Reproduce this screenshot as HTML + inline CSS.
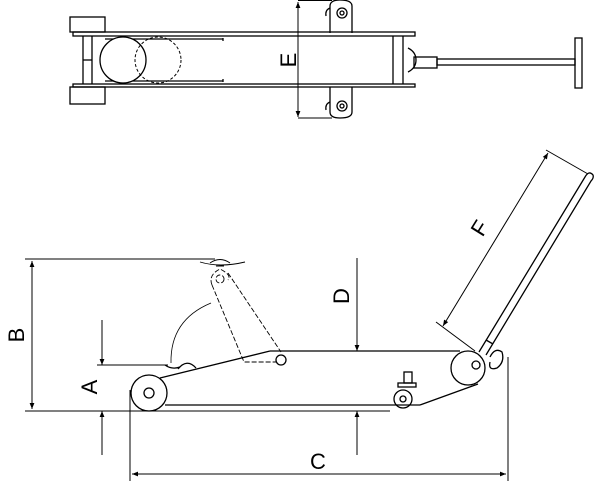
<!DOCTYPE html>
<html><head><style>body{margin:0;background:#fff}svg{display:block}</style></head>
<body>
<svg width="600" height="481" viewBox="0 0 600 481" xmlns="http://www.w3.org/2000/svg" font-family="Liberation Sans, sans-serif">
<defs>
<marker id="ar" viewBox="0 0 10 10" refX="10" refY="5" markerWidth="8" markerHeight="6" orient="auto-start-reverse" markerUnits="userSpaceOnUse"><path d="M0,1 L10,5 L0,9 z" fill="#000"/></marker>
</defs>
<g fill="none" stroke="#000" stroke-width="1.3">
<!-- top view -->
<rect x="70" y="17" width="35" height="15"/>
<rect x="70" y="87" width="35" height="17"/>
<rect x="73" y="32" width="342" height="4"/>
<rect x="73" y="84" width="342" height="3"/>
<line x1="83" y1="36" x2="83" y2="84"/><line x1="92" y1="36" x2="92" y2="84"/>
<line x1="83" y1="60" x2="92" y2="60"/>
<line x1="105" y1="39" x2="223" y2="39"/><line x1="105" y1="81" x2="223" y2="81"/>
<line x1="223" y1="38" x2="223" y2="41"/><line x1="223" y1="79" x2="223" y2="82"/>
<circle cx="123" cy="60" r="23" fill="#fff"/>
<circle cx="158" cy="60" r="23" stroke-dasharray="3,2" stroke-width="1"/>
<line x1="393" y1="36" x2="393" y2="84"/><line x1="403" y1="36" x2="403" y2="84"/>
<path d="M408,48 Q416,52 416,60 Q416,68 408,72"/>
<rect x="414" y="57" width="23" height="11"/>
<rect x="437" y="59" width="138" height="6"/>
<rect x="575" y="38" width="7" height="50"/>
<path d="M330,33 V6 Q330,0 340,0 Q352,0 352,6 V33"/>
<circle cx="342" cy="13" r="5"/><circle cx="342" cy="13" r="2"/>
<path d="M330,87 V112 Q330,118 340,118 Q352,118 352,112 V87"/>
<circle cx="342" cy="106" r="5"/><circle cx="342" cy="106" r="2"/>
<path d="M330,8 Q325,10 326,16" /><path d="M330,102 Q325,104 326,110"/>
<g stroke-width="1">
<line x1="298" y1="2" x2="298" y2="117" marker-start="url(#ar)" marker-end="url(#ar)"/>
<line x1="298" y1="0.5" x2="332" y2="0.5"/><line x1="298" y1="118" x2="332" y2="118"/>
</g>
<!-- side view -->
<g stroke-width="1">
<line x1="25" y1="259" x2="215" y2="259"/>
<line x1="25" y1="411" x2="390" y2="411"/>
<line x1="32" y1="261" x2="32" y2="409" marker-start="url(#ar)" marker-end="url(#ar)"/>
<line x1="102" y1="320" x2="102" y2="365" marker-end="url(#ar)"/>
<line x1="102" y1="455" x2="102" y2="411" marker-end="url(#ar)"/>
<line x1="97" y1="365" x2="168" y2="365"/>
<line x1="357" y1="258" x2="357" y2="351" marker-end="url(#ar)"/>
<line x1="357" y1="455" x2="357" y2="411" marker-end="url(#ar)"/>
<line x1="130" y1="390" x2="130" y2="481"/>
<line x1="508" y1="357" x2="508" y2="481"/>
<line x1="132" y1="474" x2="506" y2="474" marker-start="url(#ar)" marker-end="url(#ar)"/>
<line x1="443" y1="326" x2="548" y2="153" marker-start="url(#ar)" marker-end="url(#ar)"/>
<line x1="436" y1="322" x2="475" y2="351"/>
<line x1="546" y1="150" x2="588" y2="174"/>
</g>
<circle cx="149" cy="393" r="18"/><circle cx="149" cy="393" r="5"/>
<line x1="165" y1="405" x2="420" y2="405"/>
<line x1="160" y1="378" x2="270" y2="351"/>
<line x1="270" y1="351" x2="460" y2="351"/>
<path d="M178,369 Q187,358 196,368"/>
<path d="M165,365 Q172,370 180,367"/>
<circle cx="281" cy="360" r="5"/>
<g stroke-width="0.9" stroke-dasharray="5,2">
<path d="M212,285 L244,362 L276,362"/>
<path d="M228,273 L281,352"/>
<circle cx="220" cy="279" r="4"/>
<path d="M212,285 Q208,275 220,269 Q232,275 228,280"/>
</g>
<path d="M200,262 Q220,268 245,262 M210,263 Q220,256 230,263 M216,266 L224,266" stroke-width="0.9"/>
<path d="M171,363 Q170,320 211,303" stroke-width="0.8"/>
<line x1="420" y1="405" x2="478" y2="384"/>
<circle cx="468" cy="368" r="17" fill="#fff"/><circle cx="476" cy="365" r="4"/>
<circle cx="403" cy="399" r="9"/><circle cx="403" cy="399" r="3"/>
<rect x="398" y="383" width="18" height="4"/><rect x="404" y="372" width="8" height="11"/>
<path d="M479,352 L585,177 Q589,170 593,175 Q594,178 591,181 L486,355"/>
<line x1="486" y1="340" x2="493" y2="344"/>
<path d="M490,357 Q495,347 502,352 Q505,362 497,368 Q488,371 490,362"/>
</g>
<g font-size="22" fill="#000">
<text transform="translate(296,60) rotate(-90)" text-anchor="middle">E</text>
<text transform="translate(24,335) rotate(-90)" text-anchor="middle">B</text>
<text transform="translate(97,387) rotate(-90)" text-anchor="middle">A</text>
<text transform="translate(349,296) rotate(-90)" text-anchor="middle">D</text>
<text x="318" y="469" text-anchor="middle">C</text>
<text transform="translate(486,232) rotate(-58)" text-anchor="middle">F</text>
</g>
</svg>
</body></html>
